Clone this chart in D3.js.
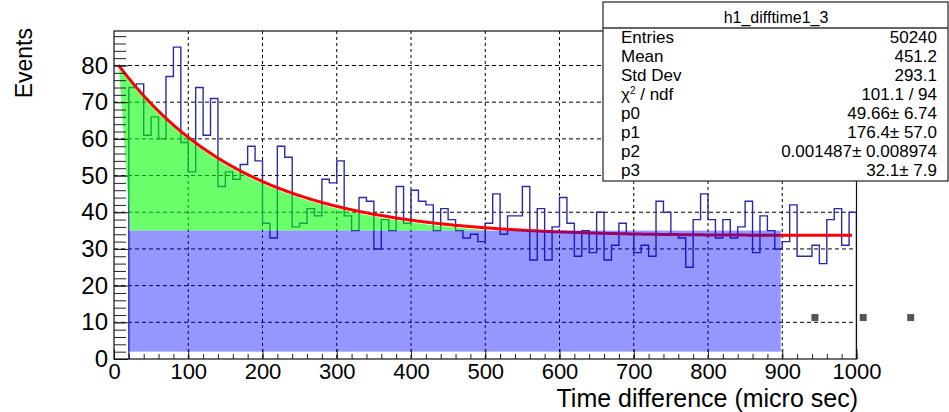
<!DOCTYPE html>
<html><head><meta charset="utf-8">
<script src="https://cdn.jsdelivr.net/npm/d3@7"></script>
<style>
body{margin:0;background:#fff;}
svg{display:block;}
text{font-family:"Liberation Sans",Arial,Helvetica,sans-serif;fill:#000;}
</style>
</head><body>
<svg id="c" width="949" height="412"></svg>
<script>
// ---- data ----
const binStart = 20;
const binWidth = 10;
const counts = [74,75,61,66,60,77,85,59,51,74,
                61,71,47,51,49,53,58,54,37,33,
                58,55,36,37,41,39,49,48,54,39,
                35,44,43,30,38,35,47,37,46,43,
                42,35,41,38,35,33,34,32,37,45,
                34,39,39,47,27,41,27,36,44,37,
                28,35,29,40,27,31,37,34,29,31,
                28,43,40,34,33,25,38,45,38,33,
                38,33,36,43,29,39,35,30,32,42,
                28,28,31,26,38,41,31,40];
const xTicks = [0,100,200,300,400,500,600,700,800,900,1000];
const yTicks = [0,10,20,30,40,50,60,70,80];
const fitParams = [49.66, 176.4, 0.001487, 32.1];   // p0..p3
const fitRange = [6, 994];
const bandLevel = 35;
const greenRange = [6, 560];
const greenBaseStart = 22;
const blueRange = [20, 898];
const blueFloor = 2;
const markerX = [944, 1009, 1073];
const markerY = [11.3, 11.3, 11.3];
const statsTitle = "h1_difftime1_3";
const statsLabels = ["Entries","Mean","Std Dev","CHI","p0","p1","p2","p3"];
const statsValues = ["50240","451.2","293.1","101.1 / 94","49.66\u00b1 6.74","176.4\u00b1 57.0","0.001487\u00b1 0.008974","32.1\u00b1 7.9"];

// ---- layout ----
const L = 114, R = 856.5, T = 31, B = 359;
const svg = d3.select("#c");
const x = d3.scaleLinear().domain([0,1000]).range([L,R]);
const y = d3.scaleLinear().domain([0,89.4]).range([B,T]);

const fit = v => fitParams[0]*Math.exp(-v/fitParams[1]) + fitParams[2]*v + fitParams[3];

svg.append("defs").append("clipPath").attr("id","frame")
  .append("rect").attr("x",L).attr("y",T).attr("width",R-L).attr("height",B-T);

// grid
const grid = svg.append("g").attr("clip-path","url(#frame)");
grid.selectAll("line.vx").data(xTicks.slice(1,-1)).join("line")
  .attr("x1",d=>x(d)).attr("x2",d=>x(d)).attr("y1",T).attr("y2",B)
  .attr("stroke","#000").attr("stroke-width",1).attr("stroke-dasharray","3,3");
grid.selectAll("line.hy").data(yTicks.slice(1)).join("line")
  .attr("x1",L).attr("x2",R).attr("y1",d=>y(d)).attr("y2",d=>y(d))
  .attr("stroke","#000").attr("stroke-width",1).attr("stroke-dasharray","4,3");

// histogram outline
const pts = [[binStart,0]];
counts.forEach((c,i)=>pts.push([binStart+i*binWidth,c]));
pts.push([binStart+counts.length*binWidth, counts[counts.length-1]]);
pts.push([binStart+counts.length*binWidth, 0]);
svg.append("path").attr("clip-path","url(#frame)")
  .attr("d", d3.line().x(d=>x(d[0])).y(d=>y(d[1])).curve(d3.curveStepAfter)(pts))
  .attr("fill","none").attr("stroke","#2a2aa8").attr("stroke-width",1.4);

// fit curve
const fitPts = d3.range(fitRange[0], fitRange[1]+0.001, 2).map(v=>[v,fit(v)]);
svg.append("path")
  .attr("d", d3.line().x(d=>x(d[0])).y(d=>y(d[1])).curve(d3.curveLinear)(fitPts))
  .attr("fill","none").attr("stroke","#ff0000").attr("stroke-width",3);

// green fill (fit excess above band)
const gPts = d3.range(greenRange[0]+2, greenRange[1]+0.001, 2).map(v=>[v, Math.max(fit(v)-0.6,bandLevel)]);
gPts.push([greenRange[1], bandLevel]);
gPts.push([greenBaseStart, bandLevel]);
gPts.push([greenRange[0]+1, fit(greenRange[0]+1)-1]);
svg.append("path")
  .attr("d", d3.line().x(d=>x(d[0])).y(d=>y(d[1]))(gPts)+"Z")
  .attr("fill","rgba(0,255,0,0.58)").attr("stroke","none");

// blue band
svg.append("rect")
  .attr("x",x(blueRange[0])).attr("width",x(blueRange[1])-x(blueRange[0]))
  .attr("y",y(bandLevel)).attr("height",y(blueFloor)-y(bandLevel))
  .attr("fill","rgba(0,0,255,0.41)");

// axes
const font = "Liberation Sans, Arial, sans-serif";
const yMinor = d3.range(0, 89, 2);
const xMinor = d3.range(0, 1001, 20);
svg.append("g").attr("transform",`translate(${L},0)`)
  .call(d3.axisLeft(y).tickValues(yMinor).tickSizeInner(-12).tickSizeOuter(0).tickFormat(""))
  .call(g=>g.select(".domain").remove())
  .call(g=>g.selectAll("line").attr("stroke","#222"));
svg.append("g").attr("transform",`translate(${L},0)`)
  .call(d3.axisLeft(y).tickValues(yTicks).tickSizeInner(-14).tickSizeOuter(0).tickPadding(6).tickFormat(d3.format("d")))
  .call(g=>g.select(".domain").remove())
  .call(g=>g.selectAll("line").attr("stroke","#222"))
  .call(g=>g.selectAll("text").attr("font-size",24).attr("font-family",font).attr("fill","#000"));
svg.append("g").attr("transform",`translate(0,${B})`)
  .call(d3.axisBottom(x).tickValues(xMinor).tickSizeInner(-5).tickSizeOuter(0).tickFormat(""))
  .call(g=>g.select(".domain").remove())
  .call(g=>g.selectAll("line").attr("stroke","#222"));
svg.append("g").attr("transform",`translate(0,${B})`)
  .call(d3.axisBottom(x).tickValues(xTicks).tickSizeInner(-10).tickSizeOuter(0).tickPadding(4).tickFormat(d3.format("d")))
  .call(g=>g.select(".domain").remove())
  .call(g=>g.selectAll("line").attr("stroke","#222"))
  .call(g=>g.selectAll("text").attr("font-size",22).attr("font-family",font).attr("fill","#000"));

// frame
svg.append("rect").attr("x",L).attr("y",T).attr("width",R-L).attr("height",B-T)
  .attr("fill","none").attr("stroke","#111").attr("stroke-width",1.2);

// markers
svg.selectAll("rect.mk").data(markerX.map((d,i)=>[d,markerY[i]])).join("rect")
  .attr("x",d=>x(d[0])-3.5).attr("y",d=>y(d[1])-3.5).attr("width",7).attr("height",7)
  .attr("fill","#555");

// axis titles
svg.append("text").attr("transform","translate(32,28) rotate(-90)")
  .attr("text-anchor","end").attr("font-size",23).text("Events");
svg.append("text").attr("x",858).attr("y",407)
  .attr("text-anchor","end").attr("font-size",25).text("Time difference (micro sec)");

// stats box
const sb = svg.append("g");
sb.append("rect").attr("x",603).attr("y",2).attr("width",345).attr("height",179)
  .attr("fill","#fff").attr("stroke","#333").attr("stroke-width",1.3);
sb.append("line").attr("x1",603).attr("x2",948).attr("y1",28).attr("y2",28)
  .attr("stroke","#333").attr("stroke-width",1.3);
sb.append("text").attr("x",776).attr("y",22.5).attr("text-anchor","middle")
  .attr("font-size",16).text(statsTitle);
statsLabels.forEach((lab,i)=>{
  const yy = 43.3 + i*18.9;
  const t = sb.append("text").attr("x",621).attr("y",yy).attr("font-size",17);
  if (lab === "CHI") {
    t.append("tspan").text("\u03c7");
    t.append("tspan").attr("dy",-6).attr("font-size",10).text("2");
    t.append("tspan").attr("dy",6).text(" / ndf");
  } else t.text(lab);
  sb.append("text").attr("x",937).attr("y",yy).attr("text-anchor","end")
    .attr("font-size",17).text(statsValues[i]);
});
</script>
</body></html>
